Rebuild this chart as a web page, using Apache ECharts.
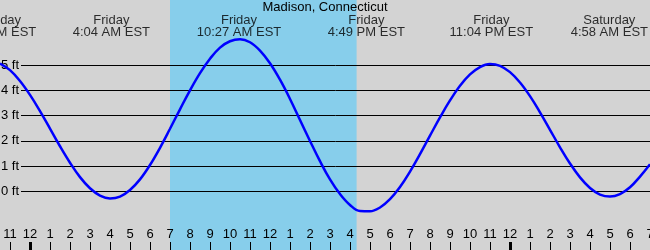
<!DOCTYPE html>
<html>
<head>
<meta charset="utf-8">
<script src="https://cdn.jsdelivr.net/npm/echarts@6/dist/echarts.min.js"></script>
<style>
html,body{margin:0;padding:0;background:#d3d3d3;}
#chart{width:650px;height:250px;}
</style>
</head>
<body>
<div id="chart"></div>
<script>
// Tide heights (ft), hours from Friday 00:00
const times = [-1.5, -1, -0.5, 0, 0.5, 1, 1.5, 2, 2.5, 3, 3.5, 4, 4.5, 5, 5.5, 6, 6.5, 7, 7.5, 8, 8.5, 9, 9.5, 10,
  10.5, 11, 11.5, 12, 12.5, 13, 13.5, 14, 14.5, 15, 15.5, 16, 16.5, 17, 17.5, 18, 18.5, 19, 19.5, 20, 20.5, 21,
  21.5, 22, 22.5, 23, 23.5, 24, 24.5, 25, 25.5, 26, 26.5, 27, 27.5, 28, 28.5, 29, 29.5, 30, 30.5, 31];
const heights = [5.06, 4.80, 4.37, 3.82, 3.18, 2.49, 1.79, 1.14, 0.57, 0.13, -0.16, -0.27, -0.20, 0.06, 0.48, 1.05,
  1.73, 2.48, 3.25, 4.00, 4.68, 5.25, 5.69, 5.94, 6.02, 5.90, 5.57, 5.07, 4.42, 3.66, 2.83, 2.00, 1.20, 0.48, -0.10,
  -0.53, -0.77, -0.78, -0.63, -0.30, 0.18, 0.79, 1.48, 2.21, 2.93, 3.60, 4.18, 4.63, 4.92, 5.04, 4.97, 4.72, 4.31,
  3.77, 3.13, 2.44, 1.75, 1.11, 0.56, 0.14, -0.12, -0.20, -0.10, 0.17, 0.59, 1.08];

// High / low tide labels
const extremeTimes = [-1.8, 4.067, 10.45, 16.817, 23.067, 28.967];
const extremeDays  = ['Thursday', 'Friday', 'Friday', 'Friday', 'Friday', 'Saturday'];
const extremeClock = ['10:12 PM EST', '4:04 AM EST', '10:27 AM EST', '4:49 PM EST', '11:04 PM EST', '4:58 AM EST'];

// Hour ticks, daylight (sunrise / sunset), midnights
const hourTicks = [-1, 0, 1, 2, 3, 4, 5, 6, 7, 8, 9, 10, 11, 12, 13, 14, 15, 16, 17, 18, 19, 20, 21, 22, 23, 24,
  25, 26, 27, 28, 29, 30, 31];
const sunrise = 7.0;
const sunset = 16.33;
const midnights = [0, 24];

const title = 'Madison, Connecticut';
const ftTicks = [0, 1, 2, 3, 4, 5];

const X_MIN = -1.5, X_MAX = 31;
const FONT = '"Liberation Sans", Arial, sans-serif';
const chart = echarts.init(document.getElementById('chart'));

function hourLabel(v) {
  const h = ((Math.round(v) % 12) + 12) % 12;
  return String(h === 0 ? 12 : h);
}

const option = {
  backgroundColor: '#d3d3d3',
  animation: false,
  textStyle: { fontFamily: FONT },
  title: {
    text: title, left: 'center', top: 0, padding: [1, 0, 0, 0],
    textStyle: { fontSize: 13, fontWeight: 'normal', color: '#000', fontFamily: FONT }
  },
  grid: [
    { left: 0, right: 0, top: 0, bottom: 0, outerBoundsMode: 'none', containLabel: false },
    { left: 21, right: 0, top: 65, bottom: 58.5, outerBoundsMode: 'none', containLabel: false },
    { left: 0, right: 0, top: 242, bottom: 0, outerBoundsMode: 'none', containLabel: false },
    { left: 0, right: 0, top: 0, bottom: 210, outerBoundsMode: 'none', containLabel: false }
  ],
  xAxis: [
    {
      gridIndex: 0, type: 'value', min: X_MIN, max: X_MAX, z: 3, position: 'bottom',
      axisLine: { show: false, onZero: false }, splitLine: { show: false },
      axisTick: { inside: true, length: 8, customValues: hourTicks, lineStyle: { color: '#000', width: 1 } },
      axisLabel: { inside: true, margin: 9, color: '#000', fontSize: 13, fontFamily: FONT, customValues: hourTicks, formatter: hourLabel }
    },
    { gridIndex: 1, type: 'value', min: 0, max: 1, show: false },
    { gridIndex: 2, type: 'value', min: X_MIN, max: X_MAX, show: false },
    { gridIndex: 3, type: 'value', min: X_MIN, max: X_MAX, show: false }
  ],
  yAxis: [
    { gridIndex: 0, type: 'value', min: -2.31, max: 7.57, show: false },
    {
      gridIndex: 1, type: 'value', min: ftTicks[0], max: ftTicks[ftTicks.length - 1], interval: 1, z: 3,
      axisLine: { show: false }, axisTick: { show: false },
      splitLine: { show: true, lineStyle: { color: '#000', width: 1 } },
      axisLabel: { margin: 2, color: '#000', fontSize: 13, fontFamily: FONT, formatter: '{value} ft' }
    },
    { gridIndex: 2, type: 'value', min: 0, max: 1, show: false },
    { gridIndex: 3, type: 'value', min: 0, max: 1, show: false }
  ],
  series: [
    {
      type: 'line', xAxisIndex: 0, yAxisIndex: 0, data: [], z: 1, silent: true,
      markArea: {
        silent: true,
        itemStyle: { color: '#87ceeb' },
        data: [[{ xAxis: sunrise }, { xAxis: sunset }]]
      }
    },
    {
      type: 'line', xAxisIndex: 2, yAxisIndex: 2, data: [], z: 4, silent: true,
      markLine: {
        silent: true, symbol: ['none', 'none'], label: { show: false },
        lineStyle: { color: '#000', width: 3, type: 'solid' },
        data: midnights.map(m => ({ xAxis: m }))
      }
    },
    {
      type: 'line', xAxisIndex: 0, yAxisIndex: 0, z: 5,
      data: times.map((t, i) => [t, heights[i]]),
      smooth: 0.4, showSymbol: false, symbol: 'none',
      lineStyle: { color: '#0000ff', width: 2.5 }
    },
    {
      type: 'scatter', xAxisIndex: 3, yAxisIndex: 3, z: 6, silent: true,
      symbolSize: 0, clip: false,
      data: extremeTimes.map((t, i) => ({ value: [t, 0], day: extremeDays[i], clock: extremeClock[i] })),
      label: {
        show: true, position: 'top', distance: 2,
        color: '#000', fontSize: 13, fontFamily: FONT, lineHeight: 12, align: 'center',
        formatter: p => p.data.day + '\n' + p.data.clock
      }
    }
  ]
};
chart.setOption(option);
</script>
</body>
</html>
